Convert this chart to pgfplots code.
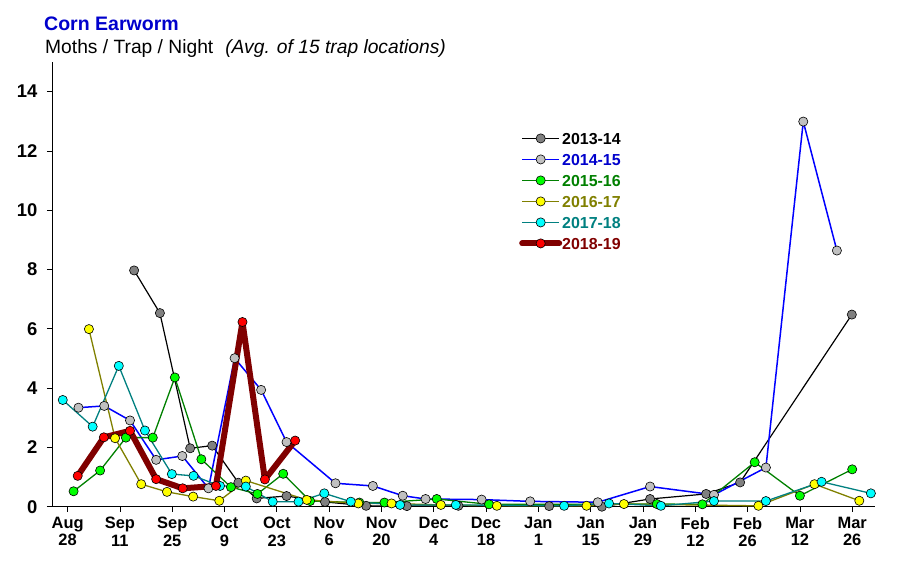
\documentclass[border=0pt]{standalone}
\usepackage{pgfplots}
\pgfplotsset{compat=1.18}
\usepackage{fontspec}
\setmainfont{Liberation Sans}
\definecolor{ttl}{RGB}{0,0,204}
\definecolor{lA}{RGB}{0,0,0}
\definecolor{fA}{RGB}{128,128,128}
\definecolor{lB}{RGB}{0,0,255}
\definecolor{fB}{RGB}{192,192,192}
\definecolor{tB}{RGB}{0,0,204}
\definecolor{lC}{RGB}{0,128,0}
\definecolor{fC}{RGB}{0,255,0}
\definecolor{lD}{RGB}{128,128,0}
\definecolor{fD}{RGB}{255,255,0}
\definecolor{lE}{RGB}{0,128,128}
\definecolor{fE}{RGB}{0,255,255}
\definecolor{lF}{RGB}{128,0,0}
\definecolor{fF}{RGB}{255,0,0}

\pgfplotstableread{
x y
17.8 7.97
24.7 6.53
32.8 1.97
38.7 2.06
45.7 0.81
50.6 0.28
58.6 0.36
68.9 0.16
79.9 0.03
90.8 0.02
104.6 0.03
128.9 0.02
143.0 0.00
155.9 0.26
170.9 0.43
180.0 0.82
209.9 6.48
}\sA
\pgfplotstableread{
x y
2.9 3.34
9.8 3.40
16.7 2.91
23.7 1.58
30.7 1.71
37.7 0.62
44.7 5.01
51.8 3.94
58.6 2.18
71.7 0.79
81.7 0.70
89.7 0.37
95.8 0.26
110.8 0.24
123.8 0.18
141.9 0.15
155.9 0.68
173.0 0.40
186.9 1.32
196.9 12.99
205.9 8.64
}\sB
\pgfplotstableread{
x y
1.6 0.52
8.7 1.22
15.6 2.33
22.8 2.33
28.7 4.36
35.8 1.60
43.7 0.66
50.8 0.43
57.7 1.11
64.9 0.19
78.1 0.14
84.8 0.14
98.8 0.26
112.8 0.08
157.7 0.09
169.9 0.08
183.9 1.50
196.0 0.37
210.0 1.26
}\sC
\pgfplotstableread{
x y
5.7 5.99
12.7 2.31
19.7 0.76
26.6 0.50
33.6 0.34
40.6 0.20
47.7 0.88
64.0 0.23
77.8 0.11
86.7 0.11
99.9 0.06
114.9 0.03
138.9 0.03
148.9 0.09
184.9 0.03
199.9 0.76
211.9 0.20
}\sD
\pgfplotstableread{
x y
-1.3 3.60
6.7 2.70
13.7 4.75
20.7 2.57
27.9 1.10
33.7 1.04
40.8 0.70
47.7 0.68
54.9 0.17
61.8 0.17
68.7 0.45
75.8 0.17
89.0 0.06
103.9 0.06
132.9 0.03
144.9 0.11
158.8 0.03
173.0 0.19
186.9 0.19
201.8 0.84
215.0 0.45
}\sE
\pgfplotstableread{
x y
2.7 1.04
9.7 2.34
16.7 2.56
23.7 0.93
30.8 0.62
39.7 0.70
46.8 6.23
52.8 0.92
60.9 2.23
}\sF

\begin{document}
\begin{tikzpicture}
\path[use as bounding box] (-52bp,-61.3bp) rectangle (848bp,506.7bp);
\begin{axis}[
  at={(0,0)}, anchor=south west,
  scale only axis, width=823bp, height=444.7bp,
  xmin=-4.18, xmax=216.1, ymin=0, ymax=15,
  axis x line*=bottom, axis y line*=left,
  axis line style={black, line width=0.8bp},
  tick style={black, line width=0.8bp},
  tick align=outside, major tick length=5bp,
  ytick={0,2,...,14},
  xtick={0,14,...,210},
  xticklabels={{Aug\\28},{Sep\\11},{Sep\\25},{Oct\\9},{Oct\\23},{Nov\\6},{Nov\\20},{Dec\\4},{Dec\\18},{Jan\\1},{Jan\\15},{Jan\\29},{Feb\\12},{Feb\\26},{Mar\\12},{Mar\\26}},
  /pgf/number format/assume math mode=true,
  yticklabel style={font=\bfseries\fontsize{18.5}{21}\selectfont, xshift=-6bp},
  xticklabel style={font=\bfseries\fontsize{16.5}{17.5}\selectfont, align=center, yshift=-2bp},
  every axis plot/.append style={line join=round, mark=*, mark size=4.6bp},
  legend cell align=left,
  legend style={at={(0.5638,0.846)}, anchor=north west, draw=none, fill=none,
    font=\bfseries\fontsize{16}{16}\selectfont,
    nodes={inner sep=0pt, text height=11.5bp, text depth=0bp},
    row sep=9.5bp,
    /tikz/every even column/.append style={column sep=8bp}},
  legend image code/.code={
    \draw[mark repeat=2,mark phase=2,#1] plot coordinates {(0bp,0bp) (18.5bp,0bp) (37bp,0bp)};
  },
]
\addplot[lA, line width=1.2bp, mark options={solid, fill=fA, draw=black, line width=0.6bp}] table {\sA};
\addlegendentry{\textcolor{lA}{2013-14}}
\addplot[lB, line width=1.5bp, mark options={solid, fill=fB, draw=black, line width=0.6bp}] table {\sB};
\addlegendentry{\textcolor{tB}{2014-15}}
\addplot[lC, line width=1.3bp, mark options={solid, fill=fC, draw=black, line width=0.6bp}] table {\sC};
\addlegendentry{\textcolor{lC}{2015-16}}
\addplot[lD, line width=1.3bp, mark options={solid, fill=fD, draw=black, line width=0.6bp}] table {\sD};
\addlegendentry{\textcolor{lD}{2016-17}}
\addplot[lE, line width=1.3bp, mark options={solid, fill=fE, draw=black, line width=0.6bp}] table {\sE};
\addlegendentry{\textcolor{lE}{2017-18}}
\addplot[lF, line width=6bp, line cap=round, mark options={solid, fill=fF, draw=black, line width=0.6bp}] table {\sF};
\addlegendentry{\textcolor{lF}{2018-19}}
\end{axis}
\node[anchor=base west, inner sep=0pt, font=\bfseries\fontsize{19.6}{22}\selectfont, text=ttl] at (-8bp,476bp) {Corn Earworm};
\node[anchor=base west, inner sep=0pt, font=\fontsize{19.3}{22}\selectfont] at (-7bp,453.4bp) {Moths / Trap / Night\hspace{12bp}\textit{(Avg. of 15 trap locations)}};
\end{tikzpicture}
\end{document}
